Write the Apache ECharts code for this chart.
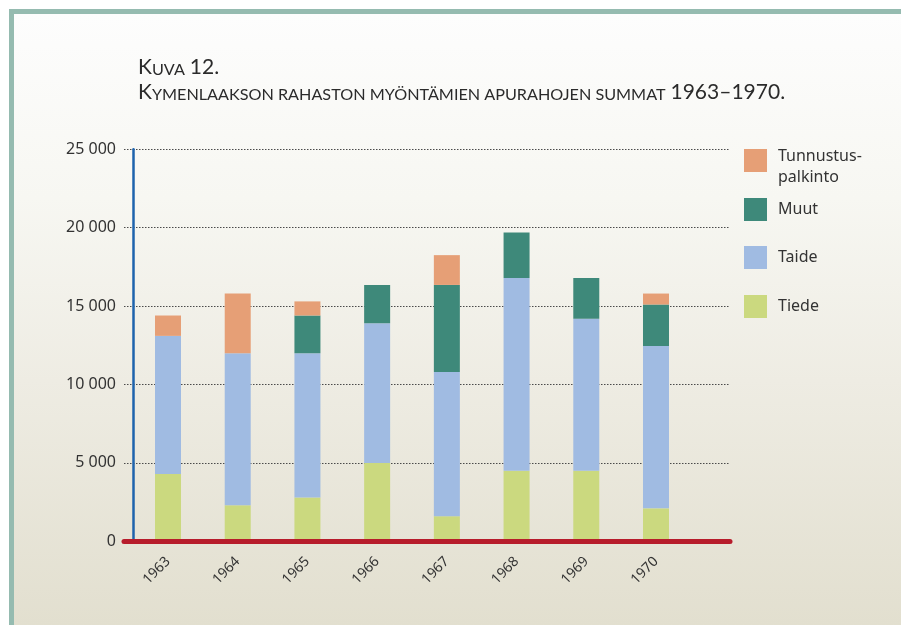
<!DOCTYPE html>
<html>
<head>
<meta charset="utf-8">
<script src="https://cdn.jsdelivr.net/npm/echarts@6/dist/echarts.min.js"></script>
<style>
  html, body { margin: 0; padding: 0; background: #ffffff; }
  #frame {
    position: absolute; left: 9px; top: 9px; width: 892px; height: 616px;
    box-sizing: border-box;
    border-left: 5px solid #95bbb0; border-top: 5px solid #95bbb0;
    background: linear-gradient(to bottom, #fdfdfd 0%, #f7f7f2 30%, #eeece3 60%, #e2dfcf 100%);
  }
  #chart { position: absolute; left: 0; top: 0; width: 901px; height: 625px; }
</style>
</head>
<body>
<div id="frame"></div>
<div id="chart"></div>
<script>
// ---- data ----
const years = ['1963', '1964', '1965', '1966', '1967', '1968', '1969', '1970'];
const tiede = [4300, 2300, 2800, 5000, 1600, 4500, 4500, 2100];
const taide = [8800, 9700, 9200, 8900, 9200, 12300, 9700, 10350];
const muut = [null, null, 2400, 2450, 5550, 2900, 2600, 2650];
const tunnustus = [1300, 3800, 900, null, 1900, null, null, 700];
const yMin = 0, yMax = 25000, yStep = 5000;

const colors = {
  tiede: '#cbd97f',
  taide: '#a0bbe2',
  muut: '#3e897a',
  tunnustus: '#e69f76'
};

const chart = echarts.init(document.getElementById('chart'), null, { renderer: 'canvas' });

function fmt(v) { return String(v).replace(/\B(?=(\d{3})+(?!\d))/g, ' '); }

const txt = '#333333';
const titleFont = 'Lato';

function legend(name, top, label) {
  return {
    data: [name], left: 744, top: top, orient: 'vertical', padding: 0,
    itemWidth: 23, itemHeight: 23, icon: 'rect',
    formatter: () => label,
    selectedMode: false,
    textStyle: {
      fontFamily: 'Noto Sans', fontSize: 16, color: txt, lineHeight: 19.5, padding: [0, 0, 0, 6],
      rich: {
        e: { fontSize: 8, lineHeight: 12.5 },
        a: { fontFamily: 'Noto Sans', fontSize: 16, color: txt, lineHeight: 20.5 }
      }
    }
  };
}

const titleRich = {
  b: { fontFamily: titleFont, fontSize: 21, fontWeight: 'normal', color: '#2b2b2b', verticalAlign: 'bottom' },
  s: { fontFamily: titleFont, fontSize: 16.2, fontWeight: 'normal', color: '#2b2b2b', verticalAlign: 'bottom' }
};

const option = {
  animation: false,
  backgroundColor: 'transparent',
  title: [
    { left: 133, top: 52, text: '{b|K}{s|UVA} {b|12.}', textStyle: { fontWeight: 'normal', rich: titleRich } },
    { left: 133, top: 77, text: '{b|K}{s|YMENLAAKSON RAHASTON MYÖNTÄMIEN APURAHOJEN SUMMAT} {b|1963–1970.}', textStyle: { fontWeight: 'normal', rich: titleRich } }
  ],
  legend: [
    legend('Tunnustuspalkinto', 133.75, '{e| }\n{a|Tunnustus-}\n{a|palkinto}'),
    legend('Muut', 198, 'Muut'),
    legend('Taide', 246, 'Taide'),
    legend('Tiede', 295, 'Tiede')
  ],
  grid: [
    // bars grid: category bands
    { left: 133.15, width: 557.7, top: 149.3, height: 392 },
    // frame grid: gridlines and baseline
    { left: 124, right: 171, top: 149.3, height: 392 }
  ],
  xAxis: [
    {
      gridIndex: 0, type: 'category', data: years, boundaryGap: true,
      axisLine: { show: false }, axisTick: { show: false }, splitLine: { show: false },
      axisLabel: { rotate: 45, margin: 18, fontFamily: 'Noto Sans', fontSize: 14, color: txt }
    },
    {
      gridIndex: 1, type: 'value', min: 0, max: 1, z: 10,
      axisLine: { show: true, onZero: false, lineStyle: { color: '#b71c2b', width: 5 } },
      axisTick: { show: false }, axisLabel: { show: false }, splitLine: { show: false }
    }
  ],
  yAxis: [
    {
      gridIndex: 0, type: 'value', min: yMin, max: yMax, interval: yStep,
      axisLine: { show: true, lineStyle: { color: '#1e63ad', width: 2.5 } },
      axisTick: { show: false }, axisLabel: { show: false }, splitLine: { show: false }
    },
    {
      gridIndex: 1, type: 'value', min: yMin, max: yMax, interval: yStep,
      axisLine: { show: false }, axisTick: { show: false },
      splitLine: { show: true, lineStyle: { color: '#4a4a4a', width: 1, type: [1.5, 1.5] } },
      axisLabel: { margin: 8, formatter: (v) => fmt(v), fontFamily: 'Noto Sans', fontSize: 16, color: txt }
    }
  ],
  series: [
    { name: 'Tiede', type: 'bar', stack: 'total', barWidth: 26, xAxisIndex: 0, yAxisIndex: 0, itemStyle: { color: colors.tiede }, data: tiede },
    { name: 'Taide', type: 'bar', stack: 'total', barWidth: 26, xAxisIndex: 0, yAxisIndex: 0, itemStyle: { color: colors.taide }, data: taide },
    { name: 'Muut', type: 'bar', stack: 'total', barWidth: 26, xAxisIndex: 0, yAxisIndex: 0, itemStyle: { color: colors.muut }, data: muut },
    { name: 'Tunnustuspalkinto', type: 'bar', stack: 'total', barWidth: 26, xAxisIndex: 0, yAxisIndex: 0, itemStyle: { color: colors.tunnustus }, data: tunnustus }
  ]
};

chart.setOption(option);
</script>
</body>
</html>
